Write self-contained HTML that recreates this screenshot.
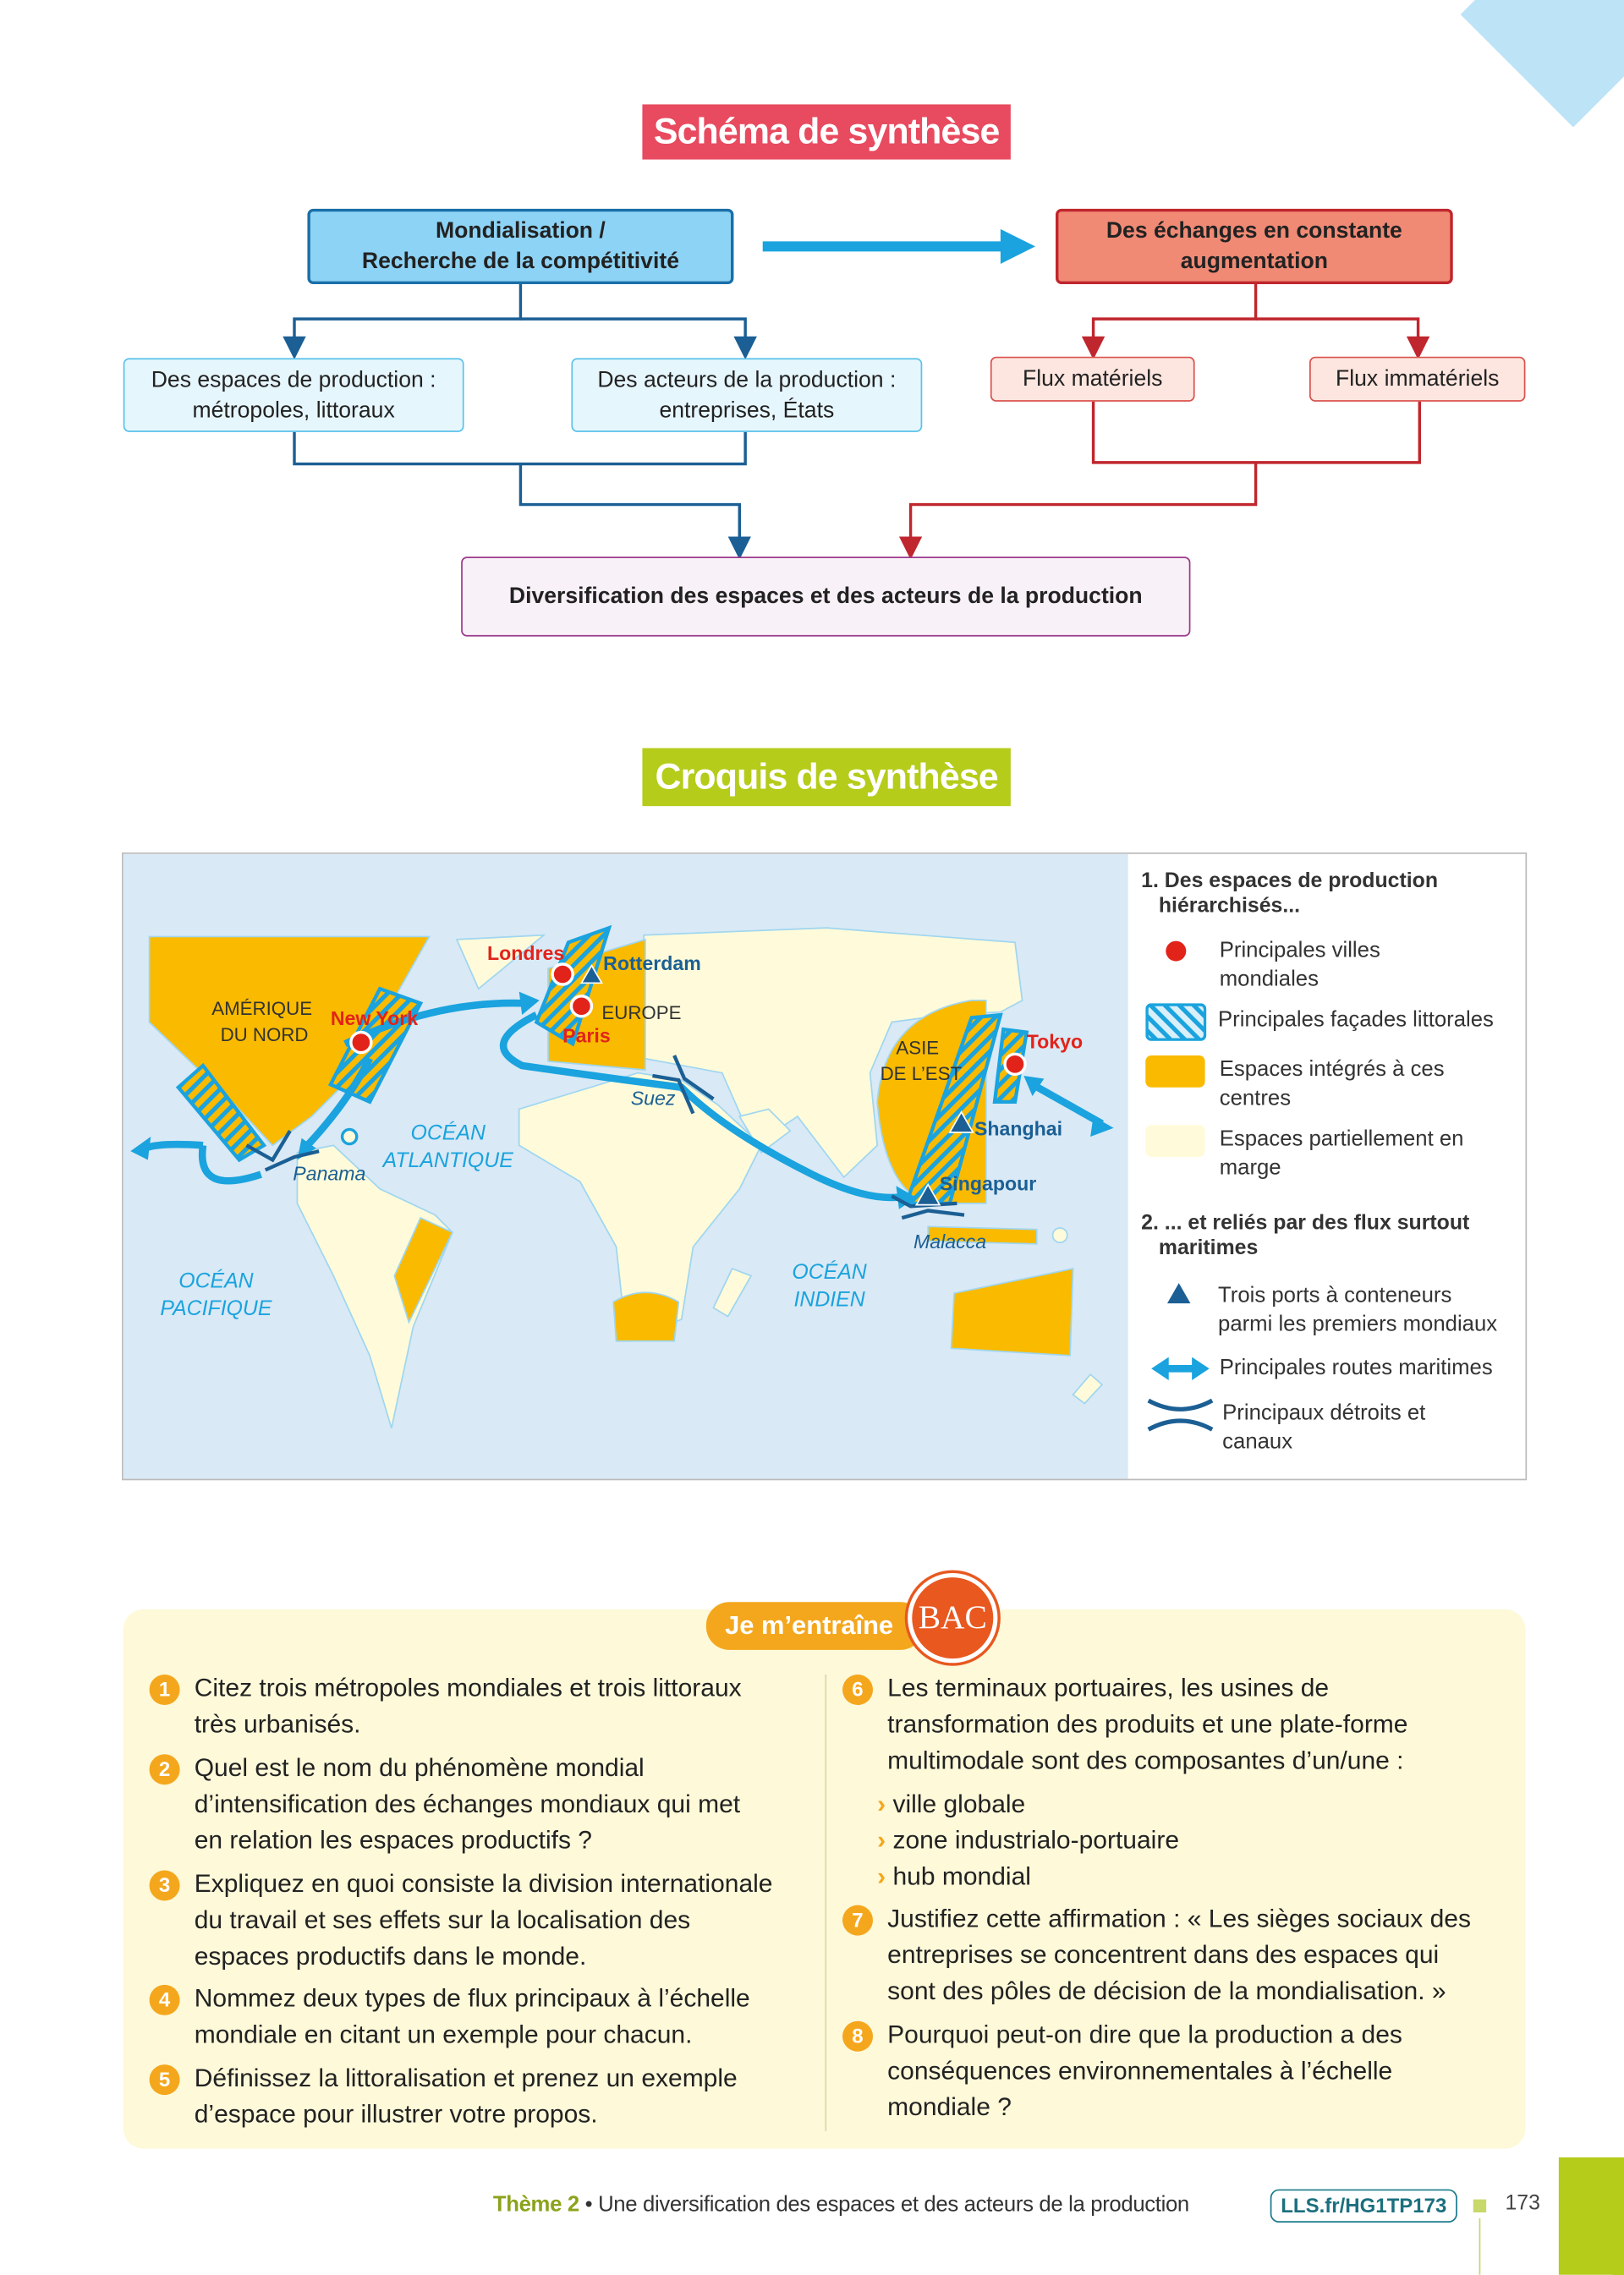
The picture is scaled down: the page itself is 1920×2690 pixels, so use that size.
<!DOCTYPE html>
<html><head><meta charset="utf-8">
<style>
body{margin:0;width:1920px;height:2689px;overflow:hidden;background:#fff;font-family:"Liberation Sans",sans-serif}
#w{position:absolute;left:0;top:0;width:1120px;height:1569px;transform:scale(1.7143);transform-origin:0 0}
.a{position:absolute;box-sizing:border-box}
.bx{display:flex;align-items:center;justify-content:center;text-align:center;font-size:15.5px;color:#222;line-height:21px;border-radius:4px}
.q{position:absolute;font-size:17.5px;line-height:25px;color:#222}
.n{position:absolute;width:21px;height:21px;border-radius:50%;background:#f4a71d;color:#fff;font-weight:bold;font-size:14px;text-align:center;line-height:21px}
.lg{position:absolute;font-size:15px;line-height:20px;color:#333}
.tt{white-space:nowrap;color:#fff;font-weight:bold;font-size:25px;text-align:center;letter-spacing:-0.5px}
</style></head><body>
<div id="w">
<div class="a" style="left:1030px;top:-45px;width:110px;height:110px;background:#bde3f7;transform:rotate(45deg)"></div>

<div class="a tt" style="left:443px;top:72px;width:254px;height:38px;background:#e84a5f;line-height:38px">Schéma de synthèse</div>

<svg class="a" style="left:0;top:0" width="1120" height="460">
<defs><marker id="mb" markerWidth="8" markerHeight="8" refX="4" refY="4" orient="auto"><path d="M0,0L8,4L0,8z" fill="#1b5f94"/></marker>
<marker id="mr" markerWidth="8" markerHeight="8" refX="4" refY="4" orient="auto"><path d="M0,0L8,4L0,8z" fill="#c0262d"/></marker></defs>
<g fill="none" stroke="#1b5f94" stroke-width="2">
<path d="M359,196V220H203V240" marker-end="url(#mb)"/><path d="M359,220H514V240" marker-end="url(#mb)"/>
<path d="M203,298V320H514V298M359,320V348H510V378" marker-end="url(#mb)"/></g>
<g fill="none" stroke="#c0262d" stroke-width="2">
<path d="M866,196V220H754V240" marker-end="url(#mr)"/><path d="M866,220H978V240" marker-end="url(#mr)"/>
<path d="M754,277V319H979V277M866,319V348H628V378" marker-end="url(#mr)"/></g>
<path d="M526,170H695" stroke="#1aa3de" stroke-width="7"/><path d="M690,158L714,170L690,182z" fill="#1aa3de"/>
</svg>
<div class="a bx" style="left:212px;top:144px;width:294px;height:52px;background:#8dd3f5;border:2px solid #1b6fa8;font-weight:bold">Mondialisation /<br>Recherche de la compétitivité</div>
<div class="a bx" style="left:728px;top:144px;width:274px;height:52px;background:#f08a75;border:2px solid #c0262d;font-weight:bold">Des échanges en constante<br>augmentation</div>
<div class="a bx" style="left:85px;top:247px;width:235px;height:51px;background:#e6f6fd;border:1.5px solid #5bc2ea">Des espaces de production :<br>métropoles, littoraux</div>
<div class="a bx" style="left:394px;top:247px;width:242px;height:51px;background:#e6f6fd;border:1.5px solid #5bc2ea">Des acteurs de la production :<br>entreprises, États</div>
<div class="a bx" style="left:683px;top:246px;width:141px;height:31px;background:#fde6df;border:1.5px solid #d9534f">Flux matériels</div>
<div class="a bx" style="left:903px;top:246px;width:149px;height:31px;background:#fde6df;border:1.5px solid #d9534f">Flux immatériels</div>
<div class="a bx" style="left:318px;top:384px;width:503px;height:55px;background:#f9f1f8;border:1.5px solid #9b3a8c;font-weight:bold">Diversification des espaces et des acteurs de la production</div>

<div class="a tt" style="left:443px;top:516px;width:254px;height:40px;background:#b5cc1a;line-height:40px">Croquis de synthèse</div>

<div class="a" style="left:84px;top:588px;width:969px;height:433px;border:1px solid #bbb;background:#fff"></div>
<svg class="a" style="left:85px;top:589px" width="693" height="431">
<defs><pattern id="h" width="7" height="7" patternUnits="userSpaceOnUse" patternTransform="rotate(45)"><rect width="7" height="7" fill="#f9ba00"/><rect width="3" height="7" fill="#1aa3de"/></pattern></defs>
<rect width="693" height="431" fill="#d9e9f5"/>
<g transform="translate(-85,-589)" stroke="#9fd6f0" stroke-width="1">
<polygon points="103,646 296,646 240,745 215,770 188,790 160,760 103,705" fill="#f9ba00"/>
<polygon points="205,795 230,790 262,820 300,838 312,850 285,915 270,985 255,935 230,880 205,830" fill="#fffbda"/>
<polygon points="290,840 312,850 282,912 272,880" fill="#f9ba00"/>
<polygon points="315,648 375,645 330,682" fill="#fffbda"/>
<polygon points="444,645 570,640 700,650 705,690 690,698 652,700 615,705 600,740 605,790 582,812 550,770 520,790 498,740 444,730" fill="#fffbda"/>
<polygon points="378,668 445,648 445,738 378,732" fill="#f9ba00"/>
<polygon points="358,765 440,740 470,745 495,762 525,790 510,820 478,860 470,910 432,925 425,860 400,815 358,790" fill="#fffbda"/>
<path d="M423,898 Q445,885 468,898 L465,925 L425,925z" fill="#f9ba00"/>
<polygon points="510,770 530,765 545,780 525,795" fill="#fffbda"/>
<path d="M680,690 L670,690 Q610,700 605,760 Q610,820 640,830 L680,830z" fill="#f9ba00"/>
<polygon points="640,846 715,848 715,858 640,856" fill="#f9ba00"/>
<polygon points="658,892 740,875 738,935 656,930" fill="#f9ba00"/>
<polygon points="505,875 518,880 502,908 492,902" fill="#fffbda"/>
<polygon points="752,948 760,955 748,968 740,962" fill="#fffbda"/>
<circle cx="731" cy="852" r="5" fill="#fffbda"/><circle cx="241" cy="784" r="5" fill="#fffbda" stroke="#1aa3de" stroke-width="2"/>
</g>
<g transform="translate(-85,-589)" stroke="#1aa3de" stroke-width="2.5" fill="url(#h)">
<polygon points="262,682 290,692 255,760 228,748"/>
<polygon points="123,750 140,735 182,790 165,800"/>
<polygon points="392,650 420,640 395,720 370,705"/>
<polygon points="670,702 690,700 655,830 625,830"/>
<polygon points="692,710 708,712 700,760 686,760"/>
</g>
<g transform="translate(-85,-589)" fill="none" stroke="#1aa3de" stroke-width="5">
<path d="M238,720 Q300,690 362,692"/><path d="M370,700 Q330,720 360,735 Q430,745 470,750 Q500,780 560,810 Q600,830 625,825"/>
<path d="M255,730 Q240,760 212,790"/><path d="M140,790 Q135,825 180,810"/><path d="M140,790 Q110,788 100,792"/>
<path d="M712,748 L760,775"/>
</g>
<g transform="translate(-85,-589)" fill="#1aa3de">
<path d="M90,794 L104,784 L102,800z"/><path d="M372,690 L358,684 L360,700z"/><path d="M205,800 L208,785 L218,792z"/><path d="M632,826 L618,818 L620,834z"/>
<path d="M706,742 L720,744 L712,756z"/><path d="M768,778 L754,770 L752,784z"/>
</g>
<g transform="translate(-85,-589)" fill="none" stroke="#1b5f94" stroke-width="2.5">
<path d="M170,790 L188,800 L200,780 M183,807 L203,798 L220,794"/><path d="M450,742 L468,745 L478,768 M465,728 L472,744 L492,758"/>
<path d="M615,825 L628,832 L660,830 M622,840 L640,835 L665,838"/>
</g>
<g transform="translate(-85,-589)">
<circle cx="249" cy="719" r="7" fill="#e2231a" stroke="#fff" stroke-width="2"/>
<circle cx="388" cy="672" r="7" fill="#e2231a" stroke="#fff" stroke-width="2"/>
<circle cx="401" cy="694" r="7" fill="#e2231a" stroke="#fff" stroke-width="2"/>
<circle cx="700" cy="734" r="7" fill="#e2231a" stroke="#fff" stroke-width="2"/>
<path d="M408,666 L401,678 L415,678z" fill="#1b5f94" stroke="#fff"/>
<path d="M663,767 L655,781 L671,781z" fill="#1b5f94" stroke="#fff"/>
<path d="M640,817 L632,831 L648,831z" fill="#1b5f94" stroke="#fff"/>
<g font-family="Liberation Sans" font-size="13">
<text x="146" y="700" fill="#333">AMÉRIQUE</text><text x="152" y="718" fill="#333">DU NORD</text>
<text x="415" y="703" fill="#333">EUROPE</text><text x="618" y="727" fill="#333">ASIE</text><text x="607" y="745" fill="#333">DE L’EST</text>
<g font-weight="bold" font-size="13.5"><text x="228" y="707" fill="#e2231a">New York</text><text x="336" y="662" fill="#e2231a">Londres</text><text x="388" y="719" fill="#e2231a">Paris</text><text x="708" y="723" fill="#e2231a">Tokyo</text>
<text x="416" y="669" fill="#1b5f94">Rotterdam</text><text x="672" y="783" fill="#1b5f94">Shanghai</text><text x="648" y="821" fill="#1b5f94">Singapour</text></g>
<g font-style="italic" fill="#1b5f94" font-size="13.5"><text x="202" y="814">Panama</text><text x="435" y="762">Suez</text><text x="630" y="861">Malacca</text></g>
<g font-style="italic" fill="#1aa3de" font-size="14.5" text-anchor="middle"><text x="309" y="786">OCÉAN</text><text x="309" y="805">ATLANTIQUE</text><text x="149" y="888">OCÉAN</text><text x="149" y="907">PACIFIQUE</text><text x="572" y="882">OCÉAN</text><text x="572" y="901">INDIEN</text></g>
</g></g>
</svg>
<div>
<div class="lg" style="left:787px;top:600px;font-weight:bold;font-size:14.5px;line-height:17px">1. Des espaces de production<br>&nbsp;&nbsp;&nbsp;hiérarchisés...</div>
<div class="a" style="left:804px;top:649px;width:14px;height:14px;border-radius:50%;background:#e2231a"></div>
<div class="lg" style="left:841px;top:646px">Principales villes<br>mondiales</div>
<svg class="a" style="left:790px;top:692px" width="42" height="26"><defs><pattern id="h2" width="7" height="7" patternUnits="userSpaceOnUse" patternTransform="rotate(-45)"><rect width="7" height="7" fill="#d9f0fa"/><rect width="3" height="7" fill="#1aa3de"/></pattern></defs><rect x="1" y="1" width="40" height="24" rx="3" fill="url(#h2)" stroke="#1aa3de" stroke-width="2"/></svg>
<div class="lg" style="left:840px;top:694px">Principales façades littorales</div>
<div class="a" style="left:790px;top:728px;width:41px;height:22px;background:#f9ba00;border-radius:4px"></div>
<div class="lg" style="left:841px;top:728px">Espaces intégrés à ces<br>centres</div>
<div class="a" style="left:790px;top:776px;width:41px;height:22px;background:#fffbda;border-radius:4px"></div>
<div class="lg" style="left:841px;top:776px">Espaces partiellement en<br>marge</div>
<div class="lg" style="left:787px;top:836px;font-weight:bold;font-size:14.5px;line-height:17px">2. ... et reliés par des flux surtout<br>&nbsp;&nbsp;&nbsp;maritimes</div>
<svg class="a" style="left:804px;top:884px" width="18" height="16"><path d="M9,1L17,15H1z" fill="#1b5f94"/></svg>
<div class="lg" style="left:840px;top:884px">Trois ports à conteneurs<br>parmi les premiers mondiaux</div>
<svg class="a" style="left:794px;top:935px" width="40" height="18"><path d="M8,9H32" stroke="#1aa3de" stroke-width="5"/><path d="M0,9L12,1V17zM40,9L28,1V17z" fill="#1aa3de"/></svg>
<div class="lg" style="left:841px;top:934px">Principales routes maritimes</div>
<svg class="a" style="left:790px;top:962px" width="48" height="28" fill="none" stroke="#1b5f94" stroke-width="3"><path d="M2,4Q24,16 46,4M2,24Q24,12 46,24"/></svg>
<div class="lg" style="left:843px;top:965px">Principaux détroits et<br>canaux</div>
</div>

<div class="a" style="left:85px;top:1110px;width:967px;height:372px;background:#fdf9d9;border-radius:14px"></div>
<div class="a" style="left:487px;top:1105px;width:150px;height:33px;background:#f4a71d;color:#fff;font-weight:bold;font-size:18px;line-height:33px;padding-left:13px;border-radius:16px">Je m’entraîne</div>
<div class="a" style="left:626px;top:1085px;width:62px;height:62px;border-radius:50%;background:#e8581f;border:3px solid #fff;box-shadow:0 0 0 2px #e8581f;color:#fff;font-family:'Liberation Serif',serif;font-size:23px;text-align:center;line-height:56px">BAC</div>
<div class="a" style="left:569px;top:1155px;width:1px;height:315px;background:#ddd8a8"></div>
<div>
<div class="n" style="left:103px;top:1155px">1</div><div class="q" style="left:134px;top:1152px">Citez trois métropoles mondiales et trois littoraux<br>très urbanisés.</div>
<div class="n" style="left:103px;top:1210px">2</div><div class="q" style="left:134px;top:1207px">Quel est le nom du phénomène mondial<br>d’intensification des échanges mondiaux qui met<br>en relation les espaces productifs ?</div>
<div class="n" style="left:103px;top:1290px">3</div><div class="q" style="left:134px;top:1287px">Expliquez en quoi consiste la division internationale<br>du travail et ses effets sur la localisation des<br>espaces productifs dans le monde.</div>
<div class="n" style="left:103px;top:1369px">4</div><div class="q" style="left:134px;top:1366px">Nommez deux types de flux principaux à l’échelle<br>mondiale en citant un exemple pour chacun.</div>
<div class="n" style="left:103px;top:1424px">5</div><div class="q" style="left:134px;top:1421px">Définissez la littoralisation et prenez un exemple<br>d’espace pour illustrer votre propos.</div>
</div>
<div>
<div class="n" style="left:581px;top:1155px">6</div><div class="q" style="left:612px;top:1152px">Les terminaux portuaires, les usines de<br>transformation des produits et une plate-forme<br>multimodale sont des composantes d’un/une :</div>
<div class="q" style="left:605px;top:1232px"><span style="color:#f4a71d;font-weight:bold">›</span> ville globale<br><span style="color:#f4a71d;font-weight:bold">›</span> zone industrialo-portuaire<br><span style="color:#f4a71d;font-weight:bold">›</span> hub mondial</div>
<div class="n" style="left:581px;top:1314px">7</div><div class="q" style="left:612px;top:1311px">Justifiez cette affirmation : « Les sièges sociaux des<br>entreprises se concentrent dans des espaces qui<br>sont des pôles de décision de la mondialisation. »</div>
<div class="n" style="left:581px;top:1394px">8</div><div class="q" style="left:612px;top:1391px">Pourquoi peut-on dire que la production a des<br>conséquences environnementales à l’échelle<br>mondiale ?</div>
</div>

<div class="a" style="left:340px;top:1512px;font-size:15px;color:#333;white-space:nowrap;letter-spacing:-0.2px"><b style="color:#8aa31a">Thème 2</b> • Une diversification des espaces et des acteurs de la production</div>
<div class="a" style="left:876px;top:1510px;width:129px;height:23px;border:1.5px solid #1b7b8c;border-radius:6px;color:#1b6f7e;font-weight:bold;font-size:14px;text-align:center;line-height:20px">LLS.fr/HG1TP173</div>
<div class="a" style="left:1016px;top:1517px;width:9px;height:9px;background:#c9d86a"></div>
<div class="a" style="left:1020px;top:1530px;width:1px;height:39px;background:#c9d86a"></div>
<div class="a" style="left:1038px;top:1512px;font-size:14.5px;color:#444">173</div>
<div class="a" style="left:1075px;top:1488px;width:45px;height:81px;background:#b5cc1a"></div>
</div>
</body></html>
